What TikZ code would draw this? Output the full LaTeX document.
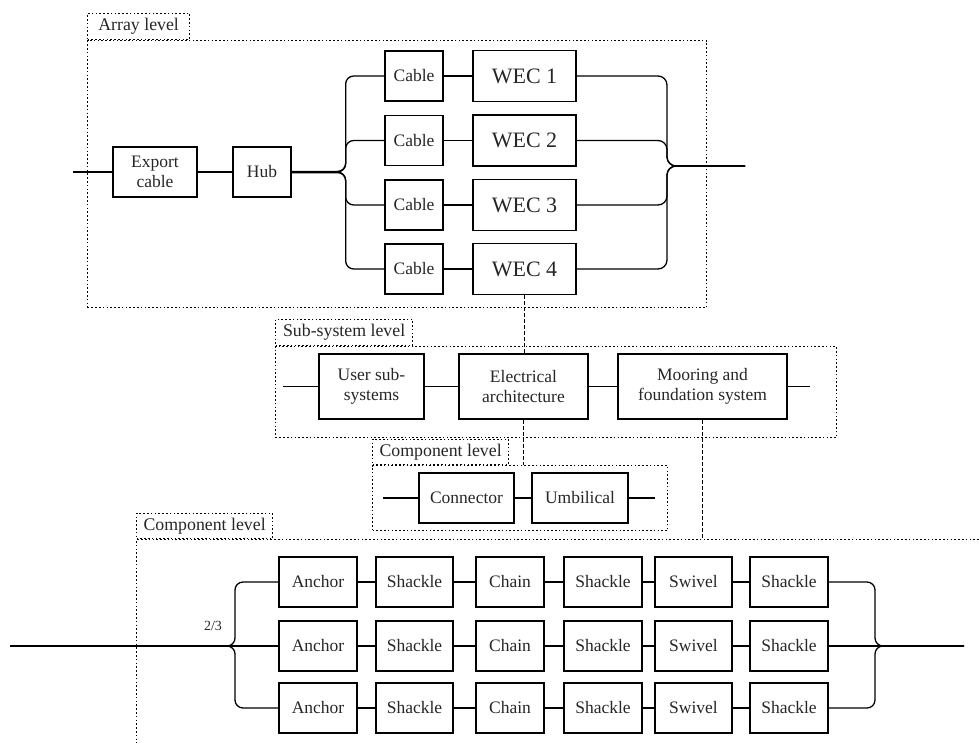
\documentclass[tikz,border=0pt]{standalone}
\usepackage{fontspec}
\setmainfont{Liberation Serif}
\begin{document}
\begin{tikzpicture}[x=1pt,y=-1pt]
\tikzset{
 blk/.style={draw, line width=1.3pt, inner sep=0pt, align=center, font=\fontsize{17.5}{20}\selectfont, text=black!85},
 wec/.style={blk, font=\fontsize{22}{24}\selectfont, minimum width=103pt, minimum height=51pt},
 frm/.style={draw, line width=1.3pt, dash pattern=on 1.6pt off 2.2pt, inner sep=0pt},
 lbl/.style={frm, font=\fontsize{17.8}{20}\selectfont, text=black!85, anchor=south west},
 wire/.style={line width=1.3pt},
 dsh/.style={line width=1.3pt, dash pattern=on 4pt off 2pt},
}
\useasboundingbox (0,0) rectangle (979,742);
% ---------- frames ----------
\node[frm, anchor=north west, minimum width=619pt, minimum height=267pt] (arrayf) at (87,40) {};
\node[lbl, minimum width=102pt, minimum height=26pt] (arrayl) at (arrayf.north west) {Array level};
\node[frm, anchor=north west, minimum width=561pt, minimum height=91pt] (subf) at (275,346) {};
\node[lbl, minimum width=137pt, minimum height=26pt] (subl) at (subf.north west) {Sub-system level};
\node[frm, anchor=north west, minimum width=295pt, minimum height=65pt] (compaf) at (372,465) {};
\node[lbl, minimum width=136pt, minimum height=25pt] (compal) at (compaf.north west) {Component level};
\begin{scope}
\clip (0,0) rectangle (979,742);
\node[frm, anchor=north west, minimum width=900pt, minimum height=300pt] (compbf) at (136,539) {};
\end{scope}
\node[lbl, minimum width=136pt, minimum height=25pt] (compbl) at (compbf.north west) {Component level};
% ---------- array level ----------
\coordinate (ain) at (73,172);
\coordinate (rbr) at (667,166);
\coordinate (aout) at (745,166);
\node[blk, minimum width=84pt, minimum height=50pt] (exp) at (155,172) {Export\\cable};
\node[blk, minimum width=58pt, minimum height=50pt] (hub) at (262,172) {Hub};
\foreach \i/\y in {1/76,2/140.5,3/205,4/269}{
  \node[blk, minimum width=58pt, minimum height=50pt] (cab\i) at (414,\y) {Cable};
  \node[wec] (wec\i) at (524.5,\y) {WEC \i};
  \draw[wire] (cab\i.east) -- (wec\i.west);
  \draw[wire, rounded corners=9pt] (wec\i.east) -| (rbr) -- (aout);
}
\foreach \i/\dy in {1/0.6,2/0.2,3/-0.2,4/-0.6}{
  \draw[wire, rounded corners=8pt] ([yshift=\dy pt]hub.east) -- ++(54,0) |- (cab\i.west);
}
\draw[wire] (ain) -- (exp.west);
\draw[wire] (exp.east) -- (hub.west);
% ---------- sub-system level ----------
\coordinate (sin) at (283,386.5);
\coordinate (sout) at (810,386.5);
\node[blk, minimum width=105pt, minimum height=65pt] (user) at (371.5,386.5) {User sub-\\systems};
\node[blk, minimum width=129pt, minimum height=65pt] (elec) at (523.5,386.5) {Electrical\\architecture};
\node[blk, minimum width=169pt, minimum height=65pt] (moor) at (702.5,386.5) {Mooring and\\foundation system};
\draw[wire] (sin) -- (user.west);
\draw[wire] (user.east) -- (elec.west);
\draw[wire] (elec.east) -- (moor.west);
\draw[wire] (moor.east) -- (sout);
% ---------- component level (electrical) ----------
\coordinate (cin) at (383,498);
\coordinate (cout) at (655,498);
\node[blk, minimum width=95pt, minimum height=50pt] (conn) at (466.5,498) {Connector};
\node[blk, minimum width=96pt, minimum height=50pt] (umb) at (580,498) {Umbilical};
\draw[wire] (cin) -- (conn.west);
\draw[wire] (conn.east) -- (umb.west);
\draw[wire] (umb.east) -- (cout);
% ---------- component level (mooring) ----------
\coordinate (min) at (10,646);
\coordinate (lbr) at (235,646);
\coordinate (rbr2) at (875,646);
\coordinate (mout) at (964,646);
\foreach \r/\y in {1/582,2/646,3/708}{
  \node[blk, minimum width=78pt, minimum height=50pt] (an\r) at (318,\y) {Anchor};
  \node[blk, minimum width=77pt, minimum height=50pt] (sa\r) at (414.5,\y) {Shackle};
  \node[blk, minimum width=68pt, minimum height=50pt] (ch\r) at (510,\y) {Chain};
  \node[blk, minimum width=78pt, minimum height=50pt] (sb\r) at (603,\y) {Shackle};
  \node[blk, minimum width=77pt, minimum height=50pt] (sw\r) at (693.5,\y) {Swivel};
  \node[blk, minimum width=78pt, minimum height=50pt] (sc\r) at (789,\y) {Shackle};
  \draw[wire] (an\r.east) -- (sa\r.west);
  \draw[wire] (sa\r.east) -- (ch\r.west);
  \draw[wire] (ch\r.east) -- (sb\r.west);
  \draw[wire] (sb\r.east) -- (sw\r.west);
  \draw[wire] (sw\r.east) -- (sc\r.west);
}
\draw[wire] (min) -- (an2.west);
\draw[wire] (sc2.east) -- (mout);
\foreach \r in {1,3}{
  \draw[wire, rounded corners=8pt] (min) -- (lbr) |- (an\r.west);
  \draw[wire, rounded corners=8pt] (sc\r.east) -| (rbr2) -- (mout);
}
\node[font=\fontsize{14}{16}\selectfont, text=black!85] (kofn) at (213,626) {2/3};
% ---------- dashed links between levels ----------
\draw[dsh] (wec4.south) -- (wec4.south |- elec.north);
\draw[dsh] (elec.south) -- (elec.south |- compaf.north);
\draw[dsh] (moor.south) -- (moor.south |- compbf.north);
\end{tikzpicture}
\end{document}
